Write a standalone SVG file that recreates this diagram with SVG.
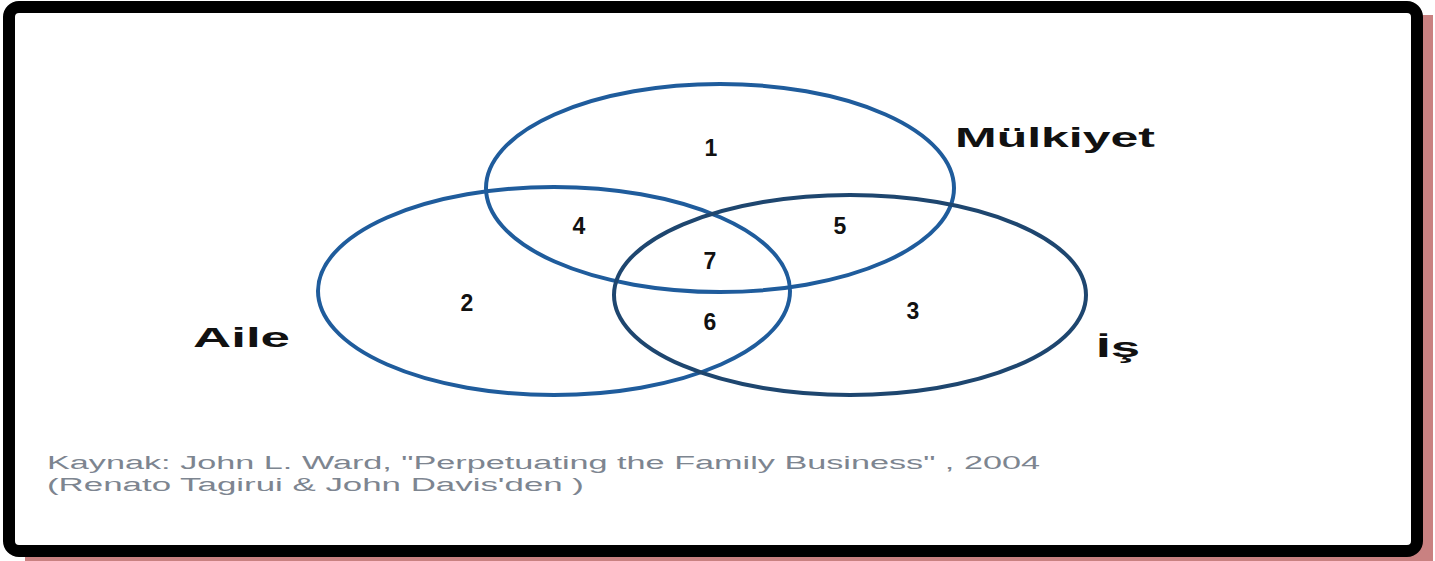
<svg xmlns="http://www.w3.org/2000/svg" width="1435" height="561" viewBox="0 0 1435 561">
  <style>
    .num { font-family: "Liberation Sans", Arial, sans-serif; font-weight: bold; font-size: 23px; fill: #111; text-anchor: middle; }
    .set { font-family: "Liberation Sans", Arial, sans-serif; font-weight: bold; font-size: 28px; fill: #111; }
    .src { font-family: "Liberation Sans", Arial, sans-serif; font-size: 18px; fill: #7d8590; }
    .ring { fill: none; stroke-width: 4; }
  </style>
  <rect width="1435" height="561" fill="#ffffff"/>
  <!-- frame with drop shadow -->
  <rect x="25" y="15" width="1408" height="546" fill="#c98181"/>
  <rect x="9" y="7" width="1408" height="544" rx="10" fill="#ffffff" stroke="#000000" stroke-width="12"/>

  <g id="connectors"></g>

  <g id="mulkiyet">
    <ellipse class="ring" cx="720" cy="188" rx="234" ry="104" stroke="#1f5c9c"/>
    <text class="set" x="955" y="147" textLength="200" lengthAdjust="spacingAndGlyphs">Mülkiyet</text>
  </g>
  <g id="aile">
    <ellipse class="ring" cx="554" cy="291" rx="236" ry="104" stroke="#1f5c9c" stroke-width="3.5"/>
    <text class="set" x="193" y="347" textLength="97" lengthAdjust="spacingAndGlyphs">Aile</text>
  </g>
  <g id="is">
    <ellipse class="ring" cx="850" cy="295" rx="236" ry="100" stroke="#1e466f"/>
    <text class="set" x="1096" y="357" textLength="44" lengthAdjust="spacingAndGlyphs">İş</text>
  </g>

  <g id="regions">
    <text class="num" x="711" y="156">1</text>
    <text class="num" x="467" y="311">2</text>
    <text class="num" x="913" y="319">3</text>
    <text class="num" x="579" y="234">4</text>
    <text class="num" x="840" y="234">5</text>
    <text class="num" x="710" y="330">6</text>
    <text class="num" x="710" y="269">7</text>
  </g>

  <g id="source">
    <text class="src" x="47" y="469" textLength="993" lengthAdjust="spacingAndGlyphs">Kaynak: John L. Ward, "Perpetuating the Family Business" , 2004</text>
    <text class="src" x="47" y="491" textLength="537" lengthAdjust="spacingAndGlyphs">(Renato Tagirui &amp; John Davis'den )</text>
  </g>
</svg>
